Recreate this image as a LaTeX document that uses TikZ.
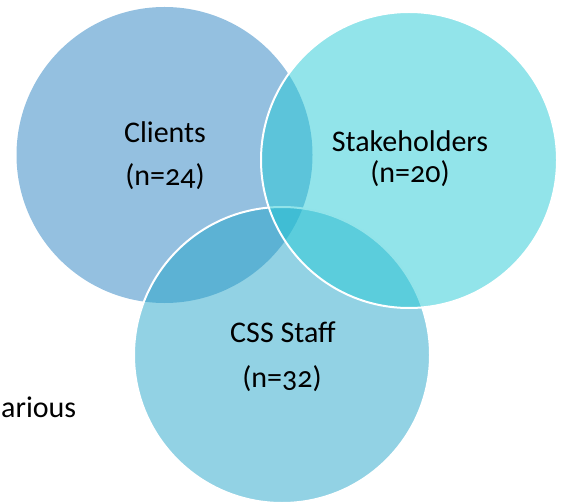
\documentclass[tikz,border=0pt]{standalone}
\usepackage{fontspec}
\setmainfont[Numbers=OldStyle]{Carlito}
\definecolor{clientsblue}{RGB}{41,129,193}
\definecolor{staffblue}{RGB}{37,165,201}
\definecolor{stakecyan}{RGB}{37,201,213}
\begin{document}
\begin{tikzpicture}[x=1pt,y=-1pt,
        venn/.style={circle, minimum size=296pt, inner sep=0pt, fill opacity=0.5},
        rim/.style={draw=white, line width=2pt},
        lbl/.style={font=\fontsize{30}{36}\selectfont, inner sep=0pt, anchor=base}]
            \useasboundingbox (0,0) rectangle (561,502);
            % the three sets
            \node[venn, fill=clientsblue] (clients) at (164.5,155) {};
            \node[venn, rim, fill=staffblue] (staff) at (282,355) {};
            \node[venn, rim, fill=stakecyan] (stake) at (409,160) {};
            % labels
            \node[lbl] (clientsname) at (165,143) {Clients};
            \node[lbl] (clientsn) at (165,186) {(n=24)};
            \node[lbl] (stakename) at (410,151.5) {Stakeholders};
            \node[lbl] (staken) at (410,183) {(n=20)};
            \node[lbl] (staffname) at (283,342) {CSS Staff};
            \node[lbl] (staffn) at (282,387) {(n=32)};
            \node[lbl, anchor=base west] (various) at (1,417) {arious};
        \end{tikzpicture}
\end{document}
